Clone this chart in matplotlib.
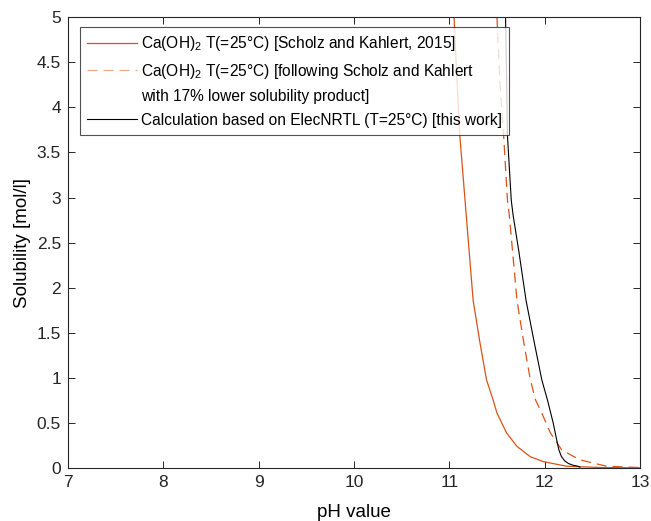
import matplotlib
matplotlib.use("Agg")
import matplotlib.pyplot as plt
from matplotlib.lines import Line2D
from matplotlib.ticker import FuncFormatter

plt.rcParams['font.family'] = ['Liberation Sans', 'DejaVu Sans']
plt.rcParams['mathtext.fontset'] = 'custom'
plt.rcParams['mathtext.rm'] = 'Liberation Sans'
plt.rcParams['mathtext.it'] = 'Liberation Sans:italic'
plt.rcParams['mathtext.bf'] = 'Liberation Sans:bold'

# Data
ph_scholz = [11.05, 11.08, 11.11, 11.165, 11.25, 11.32, 11.39, 11.46, 11.50, 11.60,
             11.71, 11.85, 11.99, 12.23, 12.6, 13.0]
sol_scholz = [5.0, 4.3, 3.69, 2.97, 1.86, 1.4, 0.98, 0.754, 0.61, 0.39,
              0.24, 0.125, 0.07, 0.02, 0.005, 0.002]

ph_lower = [11.50, 11.53, 11.57, 11.61, 11.63, 11.71, 11.78, 11.85, 11.905, 11.97,
            12.06, 12.18, 12.37, 12.65, 13.0]
sol_lower = [5.0, 4.3, 3.69, 2.97, 2.8, 1.86, 1.4, 0.98, 0.754, 0.61,
             0.39, 0.2, 0.09, 0.02, 0.005]

ph_elec = [11.59, 11.60, 11.61, 11.65, 11.67, 11.73, 11.805, 11.89, 11.97, 12.03,
           12.09, 12.125, 12.15, 12.175, 12.21, 12.25, 12.30, 12.35, 12.37]
sol_elec = [5.0, 4.4, 3.69, 2.97, 2.8, 2.4, 1.86, 1.4, 0.98, 0.754,
            0.5, 0.32, 0.2, 0.13, 0.08, 0.05, 0.03, 0.02, 0.01]

orange = '#D95319'
dash = (0, (8, 4.8))

fig = plt.figure(figsize=(6.51, 5.21), dpi=100)
ax = fig.add_axes([0.1045, 0.1017, 0.8785, 0.8653])

ax.plot(ph_scholz, sol_scholz, color=orange, lw=0.9)
ax.plot(ph_lower, sol_lower, color=orange, lw=0.9, ls=dash)
ax.plot(ph_elec, sol_elec, color='black', lw=0.8)

ax.set_xlim(7, 13)
ax.set_ylim(0, 5)
ax.set_xticks(range(7, 14))
ax.set_yticks([i * 0.5 for i in range(11)])
ax.yaxis.set_major_formatter(FuncFormatter(lambda v, p: f"{v:g}"))
ax.tick_params(direction='in', top=True, right=True, labelsize=12.5, length=5,
               width=0.7, colors='#262626', pad=5)
for s in ax.spines.values():
    s.set_linewidth(0.8)
    s.set_color('#262626')
ax.set_xlabel('pH value', fontsize=13.5, labelpad=10)
ax.set_ylabel('Solubility [mol/l]', fontsize=13.5, labelpad=4)

handles = [
    Line2D([], [], color=orange, lw=0.9),
    Line2D([], [], color=orange, lw=0.9, ls=dash, alpha=0.5),
    Line2D([], [], color='none'),
    Line2D([], [], color='black', lw=0.8),
]
labels = [
    r'Ca(OH)$_2$ T(=25°C) [Scholz and Kahlert, 2015]',
    r'Ca(OH)$_2$ T(=25°C) [following Scholz and Kahlert',
    'with 17% lower solubility product]',
    'Calculation based on ElecNRTL (T=25°C) [this work]',
]
leg = ax.legend(handles, labels, loc='upper left', bbox_to_anchor=(0.021, 0.978),
                borderaxespad=0, fancybox=False, fontsize=11.2, handlelength=3.2,
                handletextpad=0.3, labelspacing=0.55, borderpad=0.45)
leg.get_frame().set_edgecolor('#262626')
leg.get_frame().set_linewidth(0.8)

fig.savefig('out.png', dpi=100)
